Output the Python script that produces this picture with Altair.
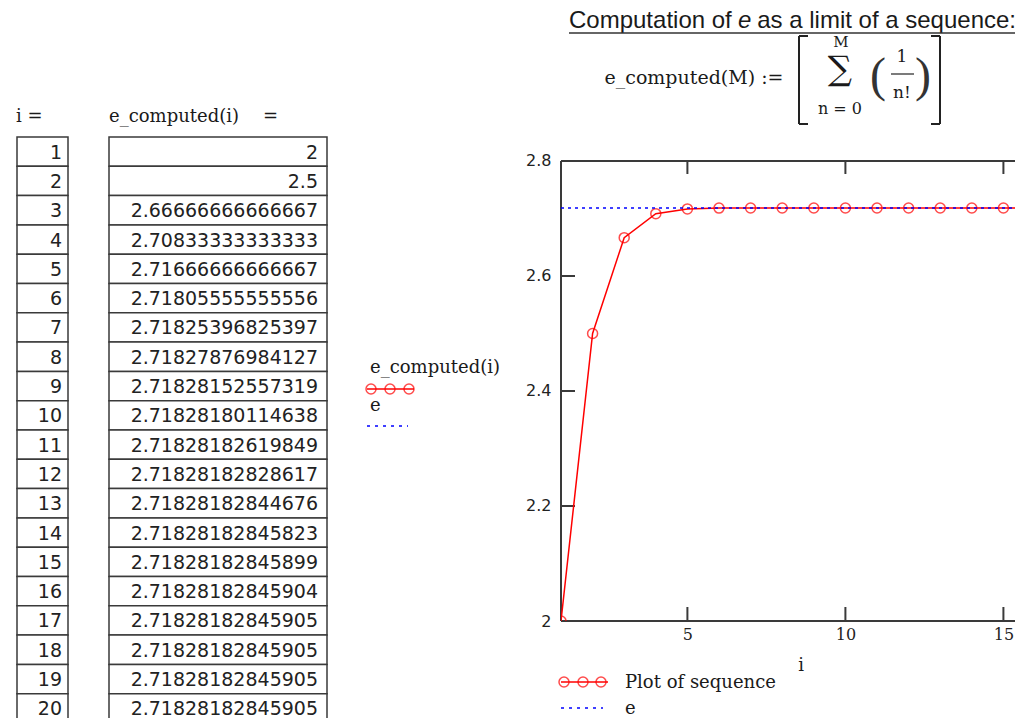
import altair as alt
import pandas as pd

# ---------------- data ----------------
i_vals = list(range(1, 21))
e_text = [
    "2", "2.5", "2.66666666666667", "2.70833333333333", "2.71666666666667",
    "2.71805555555556", "2.71825396825397", "2.71827876984127", "2.71828152557319",
    "2.71828180114638", "2.71828182619849", "2.71828182828617", "2.71828182844676",
    "2.71828182845823", "2.71828182845899", "2.71828182845904", "2.71828182845905",
    "2.71828182845905", "2.71828182845905", "2.71828182845905",
]
e_vals = [float(s) for s in e_text]
e_const = [2.71828182845905]
x_label_ticks = [5, 10, 15]
y_label_ticks = [2.0, 2.2, 2.4, 2.6, 2.8]
y_inner_ticks = [2.2, 2.4, 2.6]
x_domain = [1, 15.43]
y_domain = [2, 2.8417]
y_top = [2.8]
y_bottom = [2.0]

title_parts = ["Computation of", "e", "as a limit of a sequence:"]
formula_lhs = "e_computed(M) :="
header_i = "i  ="
header_e = "e_computed(i)"
legend_labels = ["e_computed(i)", "e"]
bottom_legend_labels = ["Plot of sequence", "e"]
x_title = "i"

df = pd.DataFrame({"i": i_vals, "v": e_vals, "s": e_text})
one = pd.DataFrame({"k": [0]})

# ---------------- geometry ----------------
IDX_W, VAL_W, CELL_W = 51, 411, 218
TH = 586
PW, PH = 456, 484
SERIF = "DejaVu Serif"
SANS = "DejaVu Sans"
INK = "#1a1a1a"
FRAME = "#3a3a3a"


def txt(s, x, y, size, font=SERIF, align="left", style="normal", baseline="middle", color=INK):
    return alt.Chart(one).mark_text(
        text=s, align=align, baseline=baseline, font=font, fontSize=size,
        fontStyle=style, color=color,
    ).encode(x=alt.value(x), y=alt.value(y))


def hrule(x1, x2, y, color=FRAME, width=1.5, dash=None):
    kw = dict(color=color, strokeWidth=width)
    if dash:
        kw["strokeDash"] = dash
    return alt.Chart(one).mark_rule(**kw).encode(
        x=alt.value(x1), x2=alt.value(x2), y=alt.value(y))


def vrule(x, y1, y2, color=FRAME, width=1.5):
    return alt.Chart(one).mark_rule(color=color, strokeWidth=width).encode(
        x=alt.value(x), y=alt.value(y1), y2=alt.value(y2))


def circ(x, y):
    return alt.Chart(one).mark_point(
        shape="circle", filled=False, size=100, strokeWidth=1.5, color="red"
    ).encode(x=alt.value(x), y=alt.value(y))


rowY = alt.Y("i:O", axis=None, scale=alt.Scale(paddingInner=0, paddingOuter=0))

# ---------------- index column ----------------
idx_cells = alt.Chart(df).mark_rect(fill="white", stroke=FRAME, strokeWidth=1.5).encode(
    y=rowY, x=alt.value(0), x2=alt.value(IDX_W))
idx_text = alt.Chart(df).mark_text(
    align="right", baseline="middle", font=SANS, fontSize=19, color="#222", dy=1
).encode(y=rowY, x=alt.value(IDX_W - 6), text="i:O")
idx_view = alt.layer(
    idx_cells, idx_text, txt(header_i, -1, -20, 18)
).properties(width=IDX_W, height=TH)

# ---------------- value column + middle legend ----------------
val_cells = alt.Chart(df).mark_rect(fill="white", stroke=FRAME, strokeWidth=1.5).encode(
    y=rowY, x=alt.value(0), x2=alt.value(CELL_W))
val_text = alt.Chart(df).mark_text(
    align="right", baseline="middle", font=SANS, fontSize=19, color="#222", dy=1
).encode(y=rowY, x=alt.value(CELL_W - 9), text="s:N")
val_view = alt.layer(
    val_cells, val_text,
    txt(header_e, 0, -20, 18), txt("=", 154, -20, 18),
    txt(legend_labels[0], 261, 231, 18),
    hrule(258, 305, 252, color="red", width=1.5),
    circ(262, 252), circ(281, 252), circ(300, 252),
    txt(legend_labels[1], 261, 269, 18),
    hrule(258, 299, 289, color="blue", width=1.5, dash=[3, 5]),
).properties(width=VAL_W, height=TH)

# ---------------- plot ----------------
xs = alt.Scale(domain=x_domain, nice=False, zero=False)
ys = alt.Scale(domain=y_domain, nice=False, zero=False)
X = alt.X("i:Q", scale=xs, axis=alt.Axis(
    values=x_label_ticks, ticks=False, domain=False, grid=False, labelFlush=False,
    labelFont=SERIF, labelFontSize=16, labelPadding=5, labelColor="#222", title=None))
Y = alt.Y("v:Q", scale=ys, axis=alt.Axis(
    values=y_label_ticks, format=".1~f", ticks=False, domain=False, grid=False,
    labelFont=SANS, labelFontSize=16, labelPadding=10, labelColor="#222", title=None))

base = alt.Chart(df)
seq_line = base.mark_line(color="red", strokeWidth=1.5, clip=True).encode(x=X, y=Y)
seq_pts = base.mark_point(shape="circle", filled=False, size=100, strokeWidth=1.5,
                          color="red", clip=True).encode(x=X, y=Y)
e_line = alt.Chart(pd.DataFrame({"e": e_const})).mark_rule(
    color="blue", strokeDash=[3, 4], strokeWidth=1.5
).encode(y=alt.Y("e:Q", scale=ys), x=alt.value(0), x2=alt.value(PW - 1))

top_border = alt.Chart(pd.DataFrame({"t": y_top})).mark_rule(color=FRAME, strokeWidth=2).encode(
    y=alt.Y("t:Q", scale=ys), x=alt.value(0), x2=alt.value(PW - 1))
bot_border = alt.Chart(pd.DataFrame({"b": y_bottom})).mark_rule(color=FRAME, strokeWidth=2).encode(
    y=alt.Y("b:Q", scale=ys), x=alt.value(0), x2=alt.value(PW - 1))
left_border = alt.Chart(pd.DataFrame({"b": y_bottom, "t": y_top})).mark_rule(
    color=FRAME, strokeWidth=2).encode(
    y=alt.Y("b:Q", scale=ys), y2="t:Q", x=alt.value(0))
xt = pd.DataFrame({"xt": x_label_ticks})
bot_ticks = alt.Chart(xt).mark_rule(color=FRAME, strokeWidth=2).encode(
    x=alt.X("xt:Q", scale=xs), y=alt.value(PH), y2=alt.value(PH - 14))
top_px = (y_domain[1] - y_top[0]) / (y_domain[1] - y_domain[0]) * PH
top_ticks = alt.Chart(xt).mark_rule(color=FRAME, strokeWidth=2).encode(
    x=alt.X("xt:Q", scale=xs), y=alt.value(top_px), y2=alt.value(top_px + 13))
left_ticks = alt.Chart(pd.DataFrame({"yt": y_inner_ticks})).mark_rule(
    color=FRAME, strokeWidth=2).encode(
    y=alt.Y("yt:Q", scale=ys), x=alt.value(0), x2=alt.value(14))

# title + formula (relative to plot origin)
TB = -109
title_layers = [
    txt(title_parts[0], 8, TB, 24, font="Liberation Sans", baseline="alphabetic"),
    txt(title_parts[1], 177, TB, 24, font="Liberation Sans", style="italic", baseline="alphabetic"),
    txt(title_parts[2], 455, TB, 24, font="Liberation Sans", align="right", baseline="alphabetic"),
    hrule(8, 455, -104, color="#333", width=1.5),
]
formula_layers = [
    txt(formula_lhs, 133, -59, 19, align="center"),
    vrule(238, -101, -13, color="#222", width=2),
    hrule(238, 247, -101, color="#222", width=2),
    hrule(238, 247, -13, color="#222", width=2),
    vrule(379, -101, -13, color="#222", width=2),
    hrule(370, 379, -101, color="#222", width=2),
    hrule(370, 379, -13, color="#222", width=2),
    txt("\u2211", 279, -67, 34, align="center"),
    txt("M", 280, -95, 15, align="center"),
    txt("n = 0", 279, -28, 16, align="center"),
    txt("(", 317, -60, 48, font="Liberation Serif", align="center", color="#333"),
    txt(")", 362, -60, 48, font="Liberation Serif", align="center", color="#333"),
    txt("1", 341, -80, 17, align="center"),
    hrule(330, 353, -63, color="#222", width=1.2),
    txt("n!", 341, -44, 17, align="center"),
]
legend_layers = [
    txt(x_title, 240, 529, 18, align="center"),
    hrule(0, 47, 545, color="red", width=1.5),
    circ(3, 545), circ(22, 545), circ(40, 545),
    txt(bottom_legend_labels[0], 64, 546, 18),
    hrule(0, 42, 571, color="blue", width=1.5, dash=[3, 5]),
    txt(bottom_legend_labels[1], 64, 572, 18),
]

plot_view = alt.layer(
    top_border, bot_border, left_border, bot_ticks, top_ticks, left_ticks,
    seq_line, seq_pts, e_line,
    *title_layers, *formula_layers, *legend_layers,
).properties(width=PW, height=PH)

chart = alt.hconcat(
    idx_view, val_view, plot_view, spacing=41, bounds="flush"
).properties(
    padding={"left": 8, "top": 1, "right": -2, "bottom": -6},
    background="white",
).configure_view(stroke="transparent", strokeWidth=0)

chart.save("out.html", embed_options={"renderer": "svg", "actions": False})
